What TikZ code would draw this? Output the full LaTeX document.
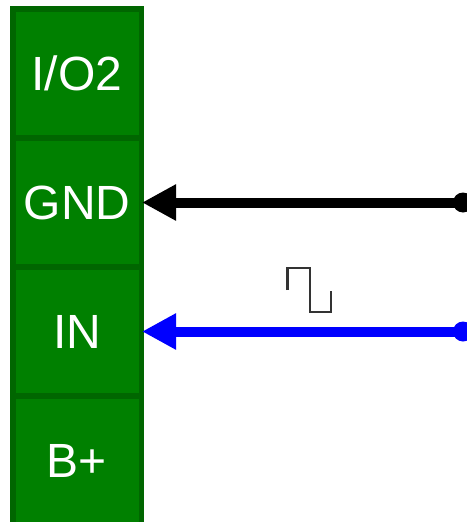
\documentclass[tikz,border=0pt]{standalone}
\usepackage{fontspec}
\setmainfont{Liberation Sans}
\usetikzlibrary{arrows.meta}
\definecolor{padgreen}{HTML}{008000}
\definecolor{paddark}{HTML}{006600}
\definecolor{wireblue}{HTML}{0000FF}
\definecolor{wavegray}{HTML}{333333}

\begin{document}
\begin{tikzpicture}[x=1pt,y=1pt,
  pad/.style = {draw=paddark, fill=padgreen, line width=5.5pt, minimum width=128.5pt, minimum height=129pt, inner sep=0pt, text=white, font=\fontsize{48}{48}\selectfont, text height=33pt, text depth=0pt},
  pin/.style = {circle, fill=#1, minimum size=20pt, inner sep=0pt},
  wire/.style = {#1, line width=10pt, shorten >=-2pt, -{Triangle[length=34pt,width=34pt]}},
  node distance={129pt}]
\useasboundingbox (0,0) rectangle (466,-522);
\node[pad] (io2) at (77,-73.5) {I/O2};
\node[pad] (gnd) [below of=io2] {GND};
\node[pad] (in) [below of=gnd] {IN};
\node[pad] (bplus) [below of=in] {B+};
\node[pin=black] (gndpin) [right of=gnd, node distance=386pt] {};
\node[pin=wireblue] (inpin) [right of=in, node distance=386pt] {};
\draw[wire=black] (gndpin.center) -- (gnd.east);
\draw[wire=wireblue] (inpin.center) -- (in.east);
\coordinate (wave) at (287.5,-290);
\draw[wavegray, line width=2.5pt] (wave) -- ++(0,22) -- ++(22.5,0) -- ++(0,-44) -- ++(21,0) -- ++(0,21);
\end{tikzpicture}
\end{document}
